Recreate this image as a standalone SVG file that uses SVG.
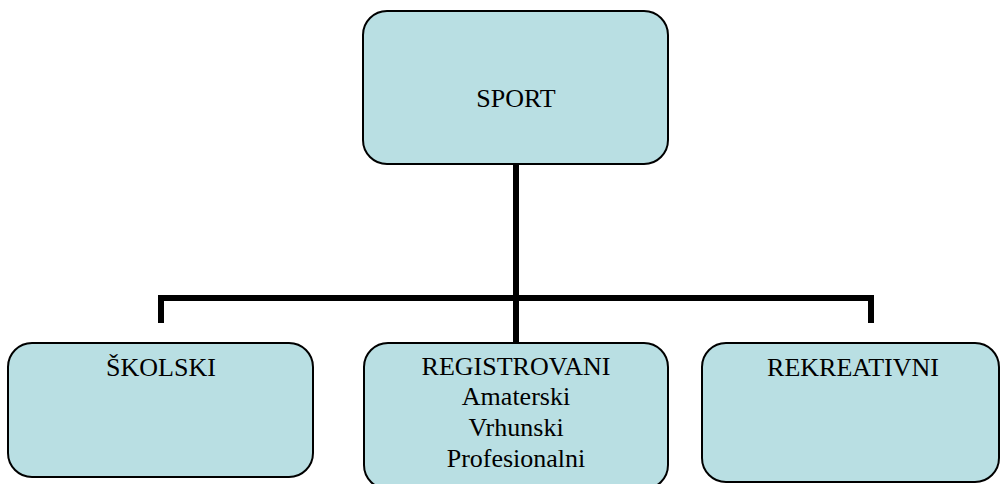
<svg xmlns="http://www.w3.org/2000/svg" width="1001" height="484" viewBox="0 0 1001 484">
<style>
.box{fill:#B9DFE3;stroke:#000;stroke-width:2}
.lbl{font-size:26px;fill:#000;text-anchor:middle}
.conn{fill:none;stroke:#000;stroke-width:6;stroke-linecap:butt;stroke-linejoin:miter}
</style>
<rect width="1001" height="484" fill="#fff"/>
<g id="connectors">
<line class="conn" x1="516" y1="164" x2="516" y2="343" stroke-width="5"/>
<polyline class="conn" points="161,323 161,298 871,298 871,323"/>
</g>
<g font-family="'Liberation Serif', 'DejaVu Serif', serif">
<g id="node-sport">
<rect class="box" x="363" y="11" width="305" height="153" rx="24" ry="24"/>
<text class="lbl" x="516" y="107">SPORT</text>
</g>
<g id="node-skolski">
<rect class="box" x="8" y="343" width="305" height="134" rx="24" ry="24"/>
<text class="lbl" x="161" y="376">ŠKOLSKI</text>
</g>
<g id="node-registrovani">
<rect class="box" x="364" y="343" width="304" height="146" rx="24" ry="24"/>
<text class="lbl" x="516" y="375">REGISTROVANI</text>
<text class="lbl" x="516" y="405">Amaterski</text>
<text class="lbl" x="516" y="436">Vrhunski</text>
<text class="lbl" x="516" y="467">Profesionalni</text>
</g>
<g id="node-rekreativni">
<rect class="box" x="702" y="343" width="297" height="139" rx="24" ry="24"/>
<text class="lbl" x="853" y="376">REKREATIVNI</text>
</g>
</g>
</svg>
